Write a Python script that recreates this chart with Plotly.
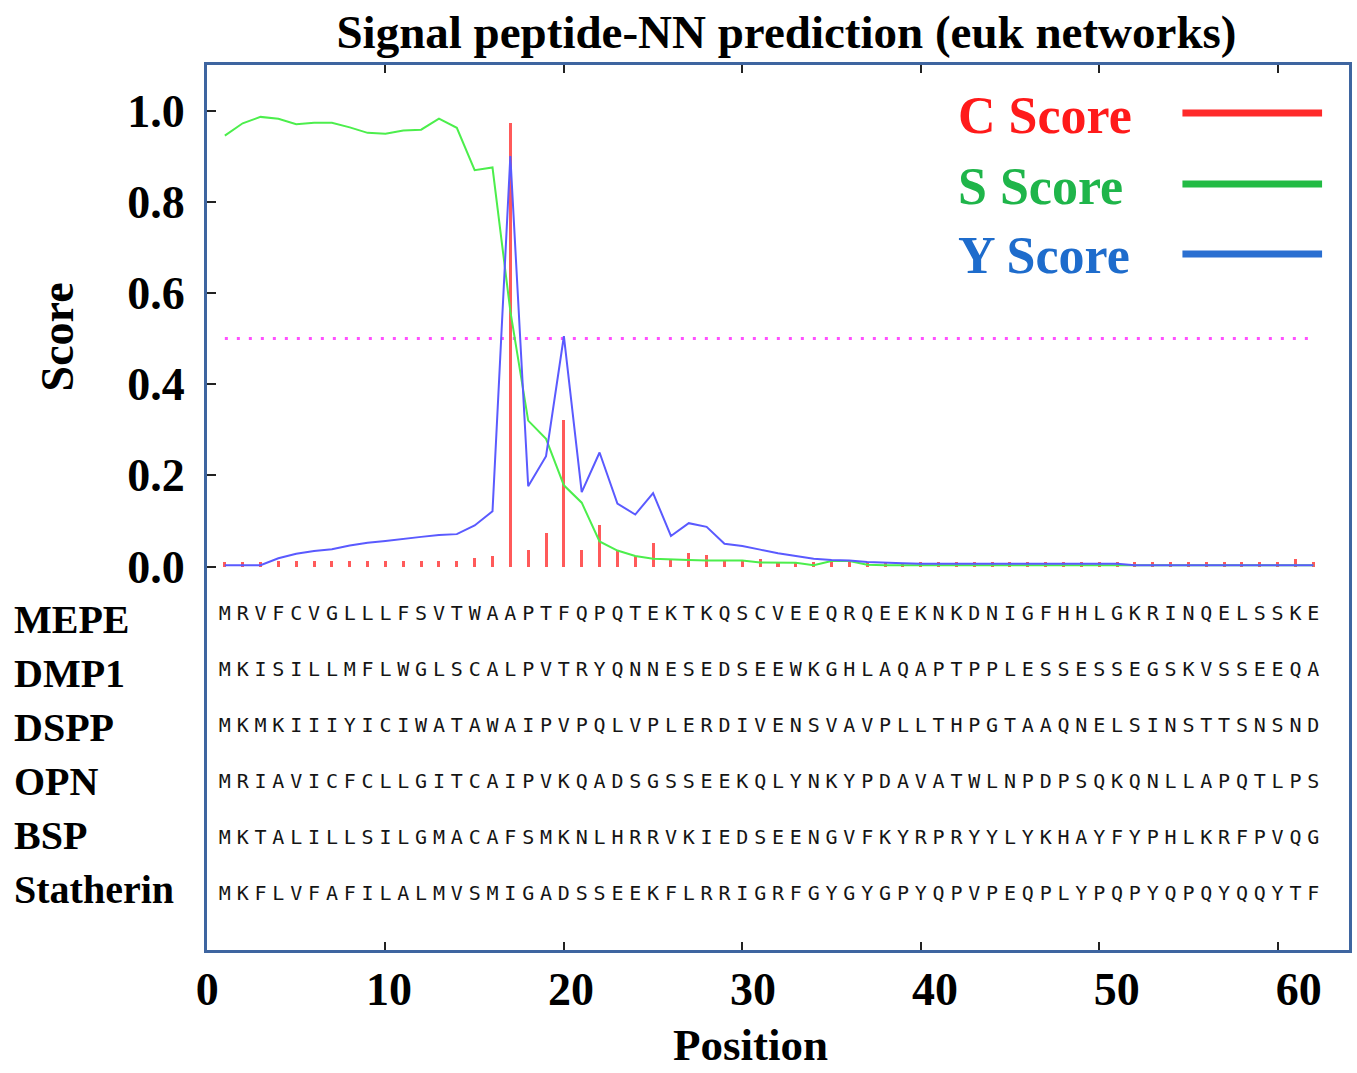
import plotly.graph_objects as go

# ---------------- data ----------------
positions = list(range(1, 63))

c_score = [0.010, 0.010, 0.010, 0.012, 0.012, 0.012, 0.012, 0.012, 0.012, 0.012,
           0.012, 0.012, 0.012, 0.013, 0.018, 0.022, 0.973, 0.037, 0.074, 0.322,
           0.037, 0.091, 0.036, 0.023, 0.052, 0.017, 0.030, 0.025, 0.013, 0.013,
           0.016, 0.010, 0.010, 0.010, 0.012, 0.010, 0.010, 0.010, 0.008, 0.010,
           0.009, 0.009, 0.009, 0.009, 0.009, 0.009, 0.009, 0.009, 0.009, 0.009,
           0.010, 0.010, 0.010, 0.010, 0.010, 0.010, 0.010, 0.010, 0.010, 0.010,
           0.017, 0.010]

s_score = [0.945, 0.972, 0.986, 0.982, 0.970, 0.973, 0.973, 0.963, 0.951, 0.949,
           0.956, 0.958, 0.982, 0.962, 0.869, 0.875, 0.560, 0.320, 0.280, 0.178,
           0.140, 0.055, 0.035, 0.023, 0.017, 0.015, 0.014, 0.013, 0.013, 0.013,
           0.009, 0.009, 0.008, 0.003, 0.012, 0.012, 0.004, 0.003, 0.003, 0.003,
           0.003, 0.003, 0.003, 0.003, 0.003, 0.003, 0.003, 0.003, 0.003, 0.003,
           0.003, 0.003, 0.003, 0.003, 0.003, 0.003, 0.003, 0.003, 0.003, 0.003,
           0.003, 0.003]

y_score = [0.003, 0.003, 0.003, 0.018, 0.028, 0.034, 0.038, 0.046, 0.052, 0.056,
           0.061, 0.065, 0.069, 0.071, 0.090, 0.121, 0.900, 0.176, 0.242, 0.505,
           0.163, 0.250, 0.138, 0.114, 0.161, 0.067, 0.095, 0.087, 0.050, 0.045,
           0.037, 0.029, 0.023, 0.017, 0.014, 0.013, 0.010, 0.008, 0.007, 0.006,
           0.006, 0.006, 0.006, 0.006, 0.006, 0.006, 0.006, 0.006, 0.006, 0.006,
           0.006, 0.003, 0.003, 0.003, 0.003, 0.003, 0.003, 0.003, 0.003, 0.003,
           0.003, 0.003]

threshold = 0.5

protein_names = ["MEPE", "DMP1", "DSPP", "OPN", "BSP", "Statherin"]
sequences = [
    "MRVFCVGLLLFSVTWAAPTFQPQTEKTKQSCVEEQRQEEKNKDNIGFHHLGKRINQELSSKE",
    "MKISILLMFLWGLSCALPVTRYQNNESEDSEEWKGHLAQAPTPPLESSESSEGSKVSSEEQA",
    "MKMKIIIYICIWATAWAIPVPQLVPLERDIVENSVAVPLLTHPGTAAQNELSINSTTSNSND",
    "MRIAVICFCLLGITCAIPVKQADSGSSEEKQLYNKYPDAVATWLNPDPSQKQNLLAPQTLPS",
    "MKTALILLSILGMACAFSMKNLHRRVKIEDSEENGVFKYRPRYYLYKHAYFYPHLKRFPVQG",
    "MKFLVFAFILALMVSMIGADSSEEKFLRRIGRFGYGYGPYQPVPEQPLYPQPYQPQYQQYTF",
]

x_ticks = [0, 10, 20, 30, 40, 50, 60]
y_ticks = [0.0, 0.2, 0.4, 0.6, 0.8, 1.0]
y_ticklabels = ["0.0", "0.2", "0.4", "0.6", "0.8", "1.0"]

legend_labels = ["C Score", "S Score", "Y Score"]

# ---------------- styles ----------------
SERIF = "Liberation Serif, Times New Roman, serif"
BORDER = "#3e65a0"
RED_MARK, GREEN_MARK, BLUE_MARK = "#ff5a5a", "#4cee4c", "#5a5aff"
LEG_TXT = ["#ff1a1a", "#1fb54a", "#1e6ccc"]
LEG_LINE = ["#ff2a2a", "#22bb44", "#2a6fd1"]

W, H = 1357, 1073
L, R, T, B = 207, 1352, 65, 950

def px_x(p):
    return (p - L) / (R - L)

def px_y(p):
    return (B - p) / (B - T)

fig = go.Figure()

fig.add_trace(go.Bar(x=positions, y=c_score, width=0.17,
                     marker=dict(color=RED_MARK, line=dict(width=0)),
                     showlegend=False, hoverinfo="skip"))
fig.add_trace(go.Scatter(x=positions, y=[threshold] * len(positions), mode="lines",
                         line=dict(color="#ff50ff", width=3, dash="3px,9px"),
                         showlegend=False, hoverinfo="skip"))
fig.add_trace(go.Scatter(x=positions, y=s_score, mode="lines",
                         line=dict(color=GREEN_MARK, width=2),
                         showlegend=False, hoverinfo="skip"))
fig.add_trace(go.Scatter(x=positions, y=y_score, mode="lines",
                         line=dict(color=BLUE_MARK, width=2),
                         showlegend=False, hoverinfo="skip"))

# sequence rows
for i, seq in enumerate(sequences):
    row_y = -0.106 - 0.1228 * i
    name_y = -0.106 - 0.1184 * i
    fig.add_trace(go.Scatter(x=positions[:len(seq)], y=[row_y] * len(seq), mode="text",
                             text=list(seq),
                             textfont=dict(family="DejaVu Sans Mono", size=20, color="#151515"),
                             showlegend=False, hoverinfo="skip"))
    fig.add_annotation(xref="paper", yref="y", x=px_x(11), y=name_y, yshift=-5,
                       text=protein_names[i],
                       xanchor="left", yanchor="middle", showarrow=False,
                       font=dict(family=SERIF, size=40, color="black", weight="bold"))

# invisible trace to carry the label axis
fig.add_trace(go.Scatter(x=[], y=[], xaxis="x2", showlegend=False, hoverinfo="skip"))

LAB_B, LAB_S = 207.2, 18.24  # pixel intercept / px-per-unit of the printed labels
fig.update_layout(
    width=W, height=H,
    margin=dict(l=L, r=W - R, t=T, b=H - B),
    paper_bgcolor="white", plot_bgcolor="white",
    showlegend=False,
    bargap=0,
    title=dict(text="Signal peptide-NN prediction (euk networks)",
               xref="paper", x=px_x(788), xanchor="center",
               yref="container", y=1 - 32 / H, yanchor="middle",
               font=dict(family=SERIF, size=47, color="black", weight="bold")),
    xaxis=dict(range=[0, 64], showgrid=False, zeroline=False,
               tickvals=x_ticks[1:], showticklabels=False,
               ticks="inside", ticklen=8, tickwidth=2, tickcolor="#222",
               showline=True, linecolor=BORDER, linewidth=3, mirror="ticks"),
    xaxis2=dict(overlaying="x", anchor="y", side="bottom",
                range=[(L - LAB_B) / LAB_S, (R - LAB_B) / LAB_S],
                showgrid=False, zeroline=False, showline=False,
                tickvals=x_ticks, ticktext=[str(v) for v in x_ticks],
                ticks="", ticklabelstandoff=8,
                tickfont=dict(family=SERIF, size=46, color="black", weight="bold")),
    yaxis=dict(range=[-0.841, 1.0998], showgrid=False, zeroline=False,
               tickvals=y_ticks, ticktext=y_ticklabels,
               ticks="inside", ticklen=9, tickwidth=2, tickcolor="#222",
               ticklabelstandoff=10,
               tickfont=dict(family=SERIF, size=46, color="black", weight="bold"),
               showline=True, linecolor=BORDER, linewidth=3, mirror=True),
)

# axis titles
fig.add_annotation(xref="paper", yref="paper", x=px_x(752), y=px_y(1072),
                   text="Position", showarrow=False, xanchor="center", yanchor="bottom",
                   font=dict(family=SERIF, size=45, color="black", weight="bold"))
fig.add_annotation(xref="paper", yref="paper", x=px_x(58), y=px_y(337),
                   text="Score", showarrow=False, textangle=-90,
                   xanchor="center", yanchor="middle",
                   font=dict(family=SERIF, size=46, color="black", weight="bold"))

# custom legend (text on the left, line sample on the right)
for k, lab in enumerate(legend_labels):
    ty = [116, 186, 256][k]
    ly = [113, 184, 254][k]
    fig.add_annotation(xref="paper", yref="paper", x=px_x(958), y=px_y(ty),
                       text=lab, showarrow=False, xanchor="left", yanchor="middle",
                       font=dict(family=SERIF, size=52, color=LEG_TXT[k], weight="bold"))
    fig.add_shape(type="line", xref="paper", yref="paper",
                  x0=px_x(1185), x1=px_x(1325), y0=px_y(ly), y1=px_y(ly),
                  line=dict(color=LEG_LINE[k], width=7))

fig.write_html("out.html")
